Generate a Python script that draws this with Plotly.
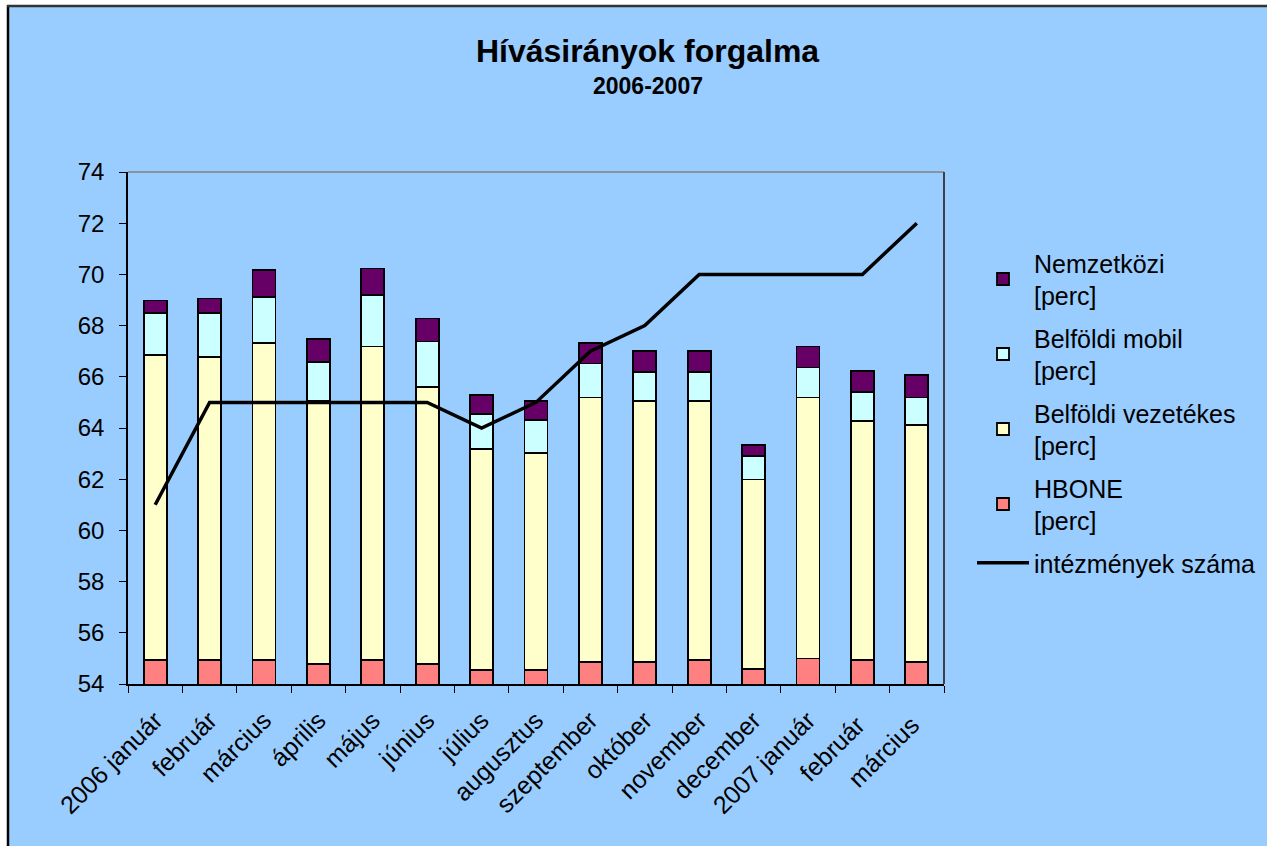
import plotly.graph_objects as go

months = ["2006 január", "február", "március", "április", "május", "június",
          "július", "augusztus", "szeptember", "október", "november",
          "december", "2007 január", "február ", "március "]

hbone = [54.95, 54.95, 54.95, 54.78, 54.95, 54.78, 54.55, 54.55, 54.87, 54.87,
         54.93, 54.60, 55.00, 54.93, 54.87]
vezetekes = [11.90, 11.82, 12.36, 10.28, 12.23, 10.81, 8.62, 8.46, 10.32, 10.18,
             10.12, 7.39, 10.19, 9.33, 9.24]
mobil = [1.63, 1.71, 1.80, 1.52, 2.01, 1.79, 1.39, 1.31, 1.33, 1.15,
         1.15, 0.92, 1.17, 1.16, 1.08]
nemzetkozi = [0.50, 0.58, 1.05, 0.89, 1.04, 0.90, 0.74, 0.74, 0.79, 0.81,
              0.81, 0.43, 0.82, 0.81, 0.88]
intezmenyek = [61, 65, 65, 65, 65, 65, 64, 65, 67, 68, 70, 70, 70, 70, 72]

FONT = "Liberation Sans, Arial, sans-serif"
BG = "#99CCFF"
W, H = 1267, 846
# plot area in page pixels
L, R, T, B = 128, 944, 172, 684


def px_x(px):
    return (px - L) / (R - L)


def px_y(py):
    return (B - py) / (B - T)


fig = go.Figure()

bar_specs = [
    ("HBONE<br>[perc]", hbone, "#FF8080", 4),
    ("Belföldi vezetékes<br>[perc]", vezetekes, "#FFFFCC", 3),
    ("Belföldi mobil<br>[perc]", mobil, "#CCFFFF", 2),
    ("Nemzetközi<br>[perc]", nemzetkozi, "#660066", 1),
]
for name, vals, col, rank in bar_specs:
    fig.add_trace(go.Bar(
        x=months, y=vals, name=name, width=0.42,
        marker=dict(color=col, line=dict(color="black", width=1.8)),
        legendrank=rank, legendgroup=name,
    ))

fig.add_trace(go.Scatter(
    x=months, y=intezmenyek, name="intézmények száma", mode="lines",
    line=dict(color="black", width=3.5), legendrank=5,
    legendgroup="line",
))

fig.update_layout(
    width=W, height=H,
    barmode="stack",
    paper_bgcolor="white",
    plot_bgcolor=BG,
    margin=dict(l=L, r=W - R, t=T, b=H - B, autoexpand=False),
    font=dict(family=FONT, color="black", size=24),
    title=dict(text="<b>Hívásirányok forgalma</b>", x=647.5 / W, xanchor="center",
               y=1 - 51 / H, yanchor="middle",
               font=dict(family=FONT, size=32, color="black")),
    showlegend=True,
    legend=dict(x=px_x(972), xanchor="left", y=px_y(240), yanchor="top",
                bgcolor="rgba(0,0,0,0)", font=dict(family=FONT, size=25, color="black"),
                itemwidth=52, tracegroupgap=7, traceorder="grouped"),
)

fig.update_xaxes(
    type="category", tickangle=-45, tickson="boundaries", ticks="outside",
    ticklen=7, tickcolor="black", showline=True, linecolor="black", linewidth=1.5,
    showgrid=False, tickfont=dict(family=FONT, size=25, color="black"),
    ticklabelstandoff=10, automargin=False,
)
fig.update_yaxes(
    range=[54, 74], dtick=2, tick0=54, ticks="outside", ticklen=7, tickcolor="black",
    showline=True, linecolor="black", linewidth=1.5, showgrid=False, zeroline=False,
    tickfont=dict(family=FONT, size=24, color="black"), ticklabelstandoff=10,
    automargin=False,
)

shapes = [
    # chart area fill
    dict(type="rect", xref="paper", yref="paper", layer="below",
         x0=px_x(8), x1=px_x(W + 20), y0=px_y(H + 20), y1=px_y(6),
         fillcolor=BG, line=dict(width=0)),
    # black frame: left and top edges
    dict(type="line", xref="paper", yref="paper", layer="below",
         x0=px_x(8), x1=px_x(8), y0=px_y(H + 20), y1=px_y(5),
         line=dict(color="black", width=2.5)),
    dict(type="line", xref="paper", yref="paper", layer="below",
         x0=px_x(7), x1=px_x(W + 20), y0=px_y(6), y1=px_y(6),
         line=dict(color="#333333", width=2.5)),
    # plot area border top (gray) and right (dark gray)
    dict(type="line", xref="paper", yref="paper", x0=0, x1=1, y0=1, y1=1,
         line=dict(color="#808080", width=1.5)),
    dict(type="line", xref="paper", yref="paper", x0=1, x1=1, y0=0, y1=1,
         line=dict(color="#404040", width=2)),
]
fig.update_layout(shapes=shapes)

fig.add_annotation(text="<b>2006-2007</b>", xref="paper", yref="paper",
                   x=px_x(647.5), y=px_y(86), xanchor="center", yanchor="middle",
                   showarrow=False, font=dict(family=FONT, size=23, color="black"))

fig.write_html("out.html", config={"displayModeBar": False},
               post_script="document.body.style.margin='0';"
                           "document.documentElement.style.overflow='hidden';")
